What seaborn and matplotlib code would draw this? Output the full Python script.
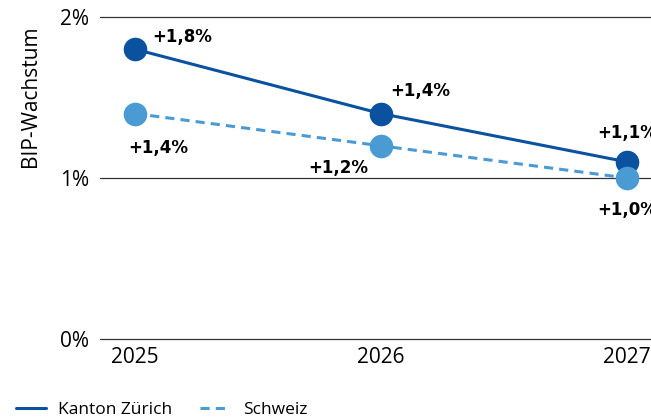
import numpy as np
import pandas as pd
import matplotlib
matplotlib.use("Agg")
import matplotlib.pyplot as plt
from matplotlib.lines import Line2D
import seaborn as sns

# Daten
jahre = [2025, 2026, 2027]
kanton_zuerich = [1.8, 1.4, 1.1]
schweiz = [1.4, 1.2, 1.0]
serien = ["Kanton Zürich", "Schweiz"]
y_ticks = [0, 1, 2]
y_ticklabels = ["0%", "1%", "2%"]

df = pd.DataFrame({
    "Jahr": jahre * 2,
    "Wachstum": kanton_zuerich + schweiz,
    "Region": [serien[0]] * 3 + [serien[1]] * 3,
})

sns.set_theme(style="white")
plt.rcParams["font.family"] = ["Open Sans", "DejaVu Sans"]
plt.rcParams["text.color"] = "black"
plt.rcParams["axes.labelcolor"] = "black"
plt.rcParams["xtick.color"] = "black"
plt.rcParams["ytick.color"] = "black"

farben = {"Kanton Zürich": "#0A52A0", "Schweiz": "#4A9BD4"}

fig = plt.figure(figsize=(6.51, 4.19), dpi=100)
ax = fig.add_axes([100 / 651, 80 / 419, 562 / 651, 322 / 419])

for y in y_ticks:
    ax.axhline(y, color="#333333", linewidth=0.9, zorder=0, clip_on=False)

sns.lineplot(
    data=df, x="Jahr", y="Wachstum", hue="Region", style="Region",
    palette=farben, dashes={"Kanton Zürich": "", "Schweiz": (3, 2)},
    markers={"Kanton Zürich": "o", "Schweiz": "o"}, markersize=17,
    markeredgewidth=0, linewidth=2.2, legend=False, ax=ax, clip_on=False,
)

ax.set_xlim(2025 - 35 / 246, 2027 + 35 / 246)
ax.set_ylim(0, 2)
ax.set_xticks(jahre)
ax.set_xticklabels([str(j) for j in jahre], fontsize=15)
ax.set_yticks(y_ticks)
ax.set_yticklabels(y_ticklabels, fontsize=15)
ax.tick_params(axis="both", length=0)
ax.tick_params(axis="x", pad=6)
ax.tick_params(axis="y", pad=8)
for s in ax.spines.values():
    s.set_visible(False)
ax.set_xlabel("")
ax.set_ylabel("BIP-Wachstum", fontsize=15)
ax.yaxis.set_label_coords(-0.105, 0.755)

def fmt(v):
    return "+" + f"{v:.1f}".replace(".", ",") + "%"

# Beschriftungen (Versatz in Punkten)
off_kz = [(34, 9), (28, 16.5), (0, 21)]
off_ch = [(16.5, -24.5), (-31, -16), (0, -23)]
for werte, offs in [(kanton_zuerich, off_kz), (schweiz, off_ch)]:
    for x, v, o in zip(jahre, werte, offs):
        ax.annotate(fmt(v), (x, v), xytext=o, textcoords="offset points",
                    ha="center", va="center", fontsize=12, fontweight="bold",
                    family="DejaVu Sans", color="black",
                    annotation_clip=False)

handles = [
    Line2D([], [], color=farben["Kanton Zürich"], linewidth=2.2),
    Line2D([], [], color=farben["Schweiz"], linewidth=2.2, dashes=(3, 2)),
]
fig.legend(handles, serien, loc="lower left", bbox_to_anchor=(0.0, -0.035),
           ncol=2, frameon=False, fontsize=12.5, handlelength=1.75,
           columnspacing=1.6, handletextpad=0.7)

fig.savefig("out.png", dpi=100)
